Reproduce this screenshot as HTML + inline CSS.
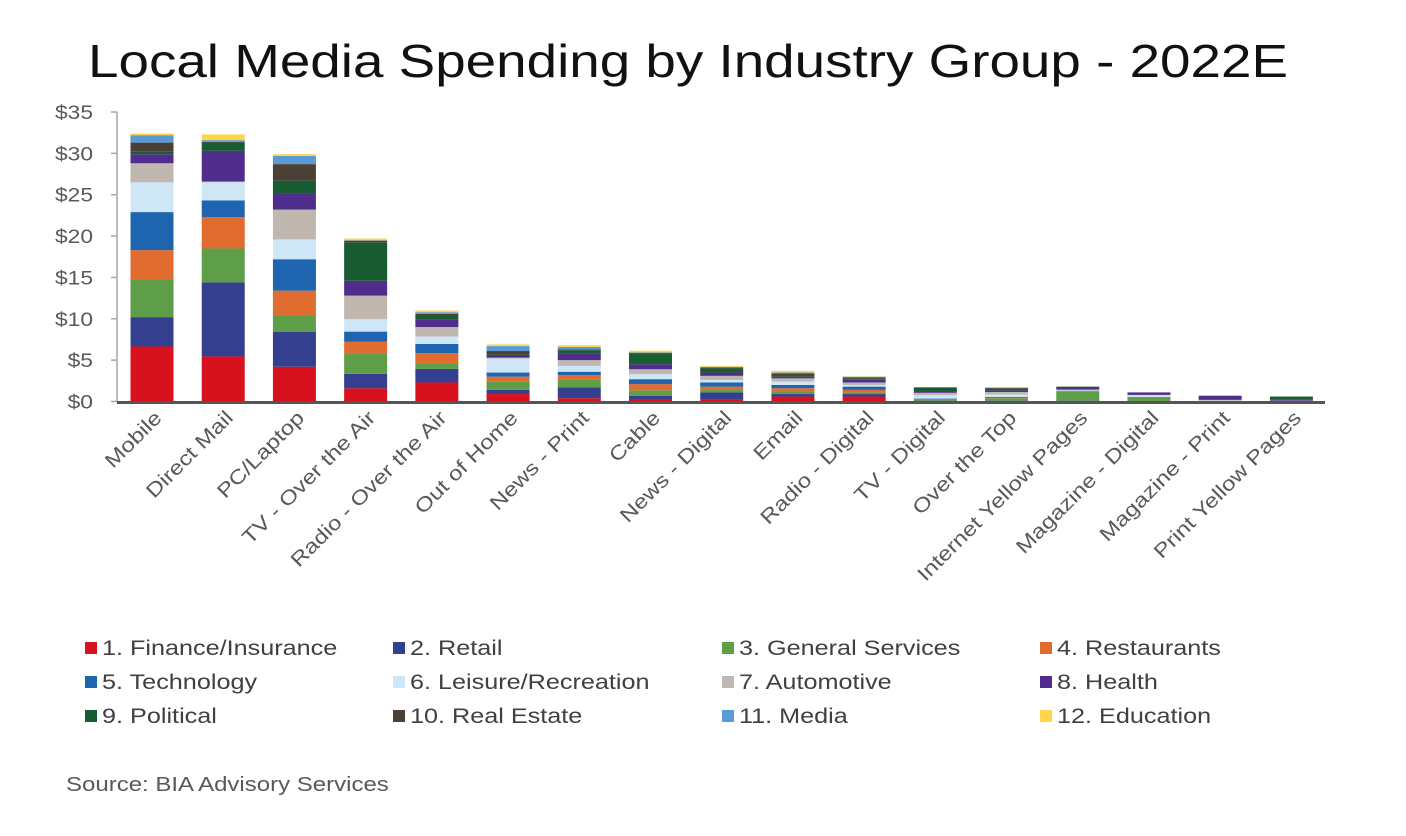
<!DOCTYPE html>
<html><head><meta charset="utf-8"><style>
body{margin:0;background:#fff;}
svg{display:block;font-family:"Liberation Sans",sans-serif;}
</style></head><body>
<svg id="c" width="1406" height="836" viewBox="0 0 1406 836">
<text x="88" y="77" font-size="46" fill="#111" textLength="1200" lengthAdjust="spacingAndGlyphs">Local Media Spending by Industry Group - 2022E</text>
<g id="plot"></g>
<text class="wide" x="66" y="791" font-size="20" fill="#595959">Source: BIA Advisory Services</text>
</svg>
<script>
const categories=["Mobile","Direct Mail","PC/Laptop","TV - Over the Air","Radio - Over the Air","Out of Home","News - Print","Cable","News - Digital","Email","Radio - Digital","TV - Digital","Over the Top","Internet Yellow Pages","Magazine - Digital","Magazine - Print","Print Yellow Pages"];
const seriesNames=["1. Finance/Insurance","2. Retail","3. General Services","4. Restaurants","5. Technology","6. Leisure/Recreation","7. Automotive","8. Health","9. Political","10. Real Estate","11. Media","12. Education"];
const seriesColors=["#d7111e","#343f8f","#5f9e48","#e06c2f","#1f64ae","#cfe6f7","#c0b8b0","#4f2d8c","#1a5c31","#4a4036","#5b9bd5","#ffd54a"];
// values per category, in series order
const mobile=[6.65,3.55,4.6,3.5,4.6,3.6,2.3,1.1,0.3,1.1,0.9,0.2];
const directMail=[5.45,8.95,4.1,3.8,2.0,2.2,0.1,3.7,1.0,0.1,0.2,0.7];
const pcLaptop=[4.2,4.2,2.0,3.0,3.8,2.4,3.6,2.0,1.5,2.0,1.0,0.2];
const tvOta=[1.6,1.75,2.5,1.4,1.2,1.5,2.85,1.8,4.6,0.25,0.05,0.2];
const radioOta=[2.3,1.65,0.65,1.25,1.1,0.9,1.15,0.9,0.5,0.2,0.2,0.2];
const outOfHome=[0.9,0.5,1.0,0.6,0.5,1.7,0.1,0.2,0.2,0.4,0.6,0.2];
const newsPrint=[0.4,1.3,1.0,0.5,0.4,0.7,0.7,0.85,0.35,0.1,0.3,0.2];
const cable=[0.3,0.4,0.65,0.75,0.6,0.6,0.6,0.6,1.35,0.05,0.05,0.2];
const newsDigital=[0.2,0.9,0.4,0.3,0.5,0.3,0.5,0.4,0.5,0.1,0.1,0.1];
const email=[0.6,0.3,0.3,0.4,0.4,0.4,0.4,0.2,0.2,0.2,0.1,0.2];
const radioDigital=[0.6,0.3,0.2,0.3,0.4,0.2,0.3,0.4,0.1,0.1,0.1,0.05];
const tvDigital=[0.05,0.05,0.1,0.05,0.1,0.4,0.3,0.1,0.5,0.05,0.05,0];
const overTheTop=[0.05,0.05,0.3,0.05,0.1,0.3,0.3,0.2,0.2,0.1,0.05,0];
const internetYP=[0.05,0.05,1.1,0.05,0.05,0.05,0.1,0.3,0.05,0,0,0];
const magDigital=[0,0.05,0.5,0,0,0.2,0.05,0.3,0,0,0,0];
const magPrint=[0,0,0.05,0,0,0.05,0.1,0.5,0,0,0,0];
const printYP=[0,0,0.05,0,0,0,0.05,0.1,0.4,0,0,0];
const values=[mobile,directMail,pcLaptop,tvOta,radioOta,outOfHome,newsPrint,cable,newsDigital,email,radioDigital,tvDigital,overTheTop,internetYP,magDigital,magPrint,printYP];
const yTicks=[0,5,10,15,20,25,30,35];

const NS="http://www.w3.org/2000/svg";
const g=document.getElementById('plot');
const X0=116.4,X1=1327,Y0=401.5,Y1=112,YMAX=35;
const band=(X1-X0)/categories.length;
const xc=i=>X0+band*(i+0.5);
const y=v=>Y0-(v/YMAX)*(Y0-Y1);
function mk(tag,attrs){const e=document.createElementNS(NS,tag);for(const k in attrs)e.setAttribute(k,attrs[k]);g.appendChild(e);return e;}

const ax=mk('line',{x1:117,y1:Y1,x2:117,y2:Y0,stroke:'#a6a6a6','stroke-width':1.5});


yTicks.forEach(t=>{
  const tl=mk('line',{x1:111,x2:117,y1:y(t),y2:y(t),stroke:'#a6a6a6','stroke-width':1.5});
  
  
  const tx=mk('text',{x:93,y:y(t)+7,'font-size':19,fill:'#595959','text-anchor':'end','class':'wide'});
  tx.textContent='$'+t;
  
  
});
const bw=43;
values.forEach((vals,i)=>{
  let acc=0;
  vals.forEach((v,s)=>{
    if(v<=0)return;
    const r=mk('rect',{x:xc(i)-bw/2,y:y(acc+v),width:bw,height:y(acc)-y(acc+v),fill:seriesColors[s]});
    
    
    acc+=v;
  });
  const lb=mk('text',{x:xc(i)+11,y:419,'font-size':20,fill:'#595959','text-anchor':'end','class':'wide',transform:`rotate(-45 ${xc(i)+11} 419)`});
  lb.textContent=categories[i];
  
  
});
const bl=mk('line',{x1:117,y1:Y0+1,x2:1325,y2:Y0+1,stroke:'#555','stroke-width':3});



const colX=[85,393,722,1040],rowY=[648,682,716];
seriesNames.forEach((n,k)=>{
  const cx=colX[k%4],cy=rowY[Math.floor(k/4)];
  const sq=mk('rect',{x:cx,y:cy-6,width:12,height:12,fill:seriesColors[k]});
  
  
  const t=mk('text',{x:cx+17,y:cy+7,'font-size':21,fill:'#404040','class':'wide'});
  t.textContent=n;
  
  
});
document.querySelectorAll('text.wide').forEach(t=>{
  const L=t.getComputedTextLength();
  t.setAttribute('textLength',(L*1.2).toFixed(1));
  t.setAttribute('lengthAdjust','spacingAndGlyphs');
});
</script>
</body></html>
